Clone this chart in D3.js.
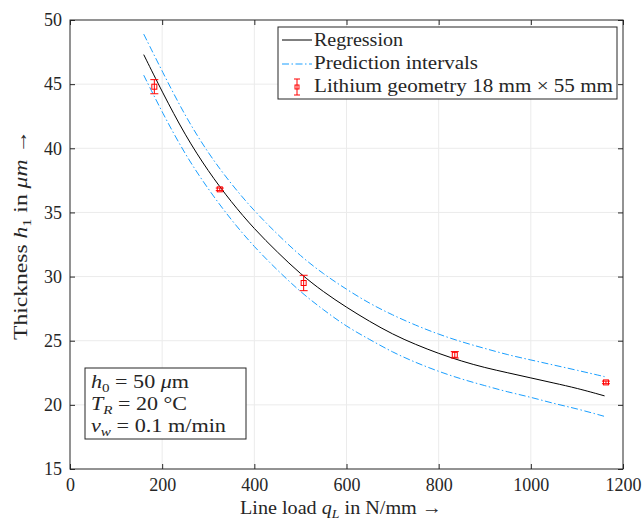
<!DOCTYPE html>
<meta charset="utf-8">
<style>
body { margin: 0; background: #fff; }
text { font-family: "Liberation Serif", "DejaVu Serif", serif; fill: #262626; }
</style>
<script src="https://d3js.org/d3.v7.min.js"></script>
<div id="chart"></div>
<script>
// regression curve and prediction intervals
var fitLoad  = [160, 200, 250, 300, 350, 400, 450, 500, 550, 600, 650, 700, 750, 800, 850, 900, 950, 1000, 1050, 1100, 1160];
var fitMid   = [47.3, 44.4, 41.0, 38.2, 35.8, 33.7, 31.9, 30.2, 28.8, 27.6, 26.5, 25.5, 24.7, 24.0, 23.4, 22.9, 22.5, 22.1, 21.7, 21.3, 20.7];
var fitUpper = [48.9, 46.0, 42.5, 39.6, 37.2, 35.1, 33.3, 31.6, 30.2, 29.0, 27.9, 27.0, 26.2, 25.5, 24.9, 24.4, 23.9, 23.5, 23.1, 22.7, 22.2];
var fitLower = [45.7, 42.8, 39.5, 36.8, 34.4, 32.3, 30.5, 28.8, 27.4, 26.1, 25.1, 24.1, 23.3, 22.6, 22.0, 21.5, 21.0, 20.6, 20.1, 19.7, 19.1];

// measurements
var measLoad = [183, 325, 507, 835, 1163];
var measThick = [44.8, 36.8, 29.5, 23.9, 21.75];
var measErr = [0.55, 0.1, 0.6, 0.25, 0.1];

var xTicks = [0, 200, 400, 600, 800, 1000, 1200];
var yTicks = [15, 20, 25, 30, 35, 40, 45, 50];

var W = 644, H = 523;
var margin = {top: 20, right: 21, bottom: 54, left: 70},
    width = W - margin.left - margin.right,
    height = H - margin.top - margin.bottom;

var svg = d3.select("#chart").append("svg")
    .attr("width", W).attr("height", H);
var g = svg.append("g")
    .attr("transform", "translate(" + margin.left + "," + margin.top + ")");

var x = d3.scaleLinear().domain([0, 1200]).range([0, width]);
var y = d3.scaleLinear().domain([15, 50]).range([height, 0]);

// grid
g.append("g").selectAll("line").data(xTicks.slice(1, -1)).enter().append("line")
  .attr("x1", d => x(d)).attr("x2", d => x(d)).attr("y1", 0).attr("y2", height)
  .attr("stroke", "#ebebeb").attr("stroke-width", 1);
g.append("g").selectAll("line").data(yTicks.slice(1, -1)).enter().append("line")
  .attr("y1", d => y(d)).attr("y2", d => y(d)).attr("x1", 0).attr("x2", width)
  .attr("stroke", "#ebebeb").attr("stroke-width", 1);

// axes with inward ticks on all sides
var axisColor = "#262626";
function styleAxis(sel) {
  sel.select(".domain").remove();
  sel.selectAll(".tick line").attr("stroke", axisColor);
  sel.selectAll(".tick text").style("font-size", "18px").style("font-family", "Liberation Serif, serif").attr("fill", axisColor);
}
g.append("g").attr("transform", "translate(0," + height + ")")
  .call(d3.axisBottom(x).tickValues(xTicks).tickSizeInner(-5).tickPadding(9).tickFormat(d3.format("d")))
  .call(styleAxis);
g.append("g")
  .call(d3.axisLeft(y).tickValues(yTicks).tickSizeInner(-5).tickPadding(8))
  .call(styleAxis);
g.append("g")
  .call(d3.axisTop(x).tickValues(xTicks).tickSizeInner(-5).tickFormat(""))
  .call(styleAxis);
g.append("g").attr("transform", "translate(" + width + ",0)")
  .call(d3.axisRight(y).tickValues(yTicks).tickSizeInner(-5).tickFormat(""))
  .call(styleAxis);
g.append("rect").attr("width", width).attr("height", height)
  .attr("fill", "none").attr("stroke", axisColor).attr("stroke-width", 1);

// curves
var line = d3.line().x(d => x(d[0])).y(d => y(d[1])).curve(d3.curveBasis);
var blue = "#1a9fff";
var dashDot = "7,2.5,1.5,2.5";
g.append("path").datum(d3.zip(fitLoad, fitUpper)).attr("d", line)
  .attr("fill", "none").attr("stroke", blue).attr("stroke-width", 1).attr("stroke-dasharray", dashDot);
g.append("path").datum(d3.zip(fitLoad, fitLower)).attr("d", line)
  .attr("fill", "none").attr("stroke", blue).attr("stroke-width", 1).attr("stroke-dasharray", dashDot);
g.append("path").datum(d3.zip(fitLoad, fitMid)).attr("d", line)
  .attr("fill", "none").attr("stroke", "#000").attr("stroke-width", 1);

// error bars
var red = "#ff0000";
var meas = d3.zip(measLoad, measThick, measErr);
var eb = g.append("g").selectAll("g").data(meas).enter().append("g")
  .attr("stroke", red).attr("stroke-width", 1).attr("fill", "none");
eb.append("line").attr("x1", d => x(d[0])).attr("x2", d => x(d[0]))
  .attr("y1", d => y(d[1] - d[2])).attr("y2", d => y(d[1] + d[2]));
eb.append("line").attr("x1", d => x(d[0]) - 4).attr("x2", d => x(d[0]) + 4)
  .attr("y1", d => y(d[1] - d[2])).attr("y2", d => y(d[1] - d[2]));
eb.append("line").attr("x1", d => x(d[0]) - 4).attr("x2", d => x(d[0]) + 4)
  .attr("y1", d => y(d[1] + d[2])).attr("y2", d => y(d[1] + d[2]));
eb.append("rect").attr("x", d => x(d[0]) - 2.5).attr("y", d => y(d[1]) - 2.5)
  .attr("width", 5).attr("height", 5);

// legend
var lg = svg.append("g").attr("transform", "translate(278,27)");
lg.append("rect").attr("width", 339).attr("height", 72)
  .attr("fill", "#fff").attr("stroke", axisColor).attr("stroke-width", 1);
lg.append("line").attr("x1", 4).attr("x2", 34).attr("y1", 13).attr("y2", 13)
  .attr("stroke", "#000");
lg.append("line").attr("x1", 4).attr("x2", 34).attr("y1", 37).attr("y2", 37)
  .attr("stroke", blue).attr("stroke-dasharray", dashDot);
var lgE = lg.append("g").attr("stroke", red).attr("fill", "none");
lgE.append("line").attr("x1", 19).attr("x2", 19).attr("y1", 52).attr("y2", 68);
lgE.append("line").attr("x1", 16).attr("x2", 22).attr("y1", 52).attr("y2", 52);
lgE.append("line").attr("x1", 16).attr("x2", 22).attr("y1", 68).attr("y2", 68);
lgE.append("rect").attr("x", 17).attr("y", 58).attr("width", 4).attr("height", 4);
var legendText = ["Regression", "Prediction intervals", "Lithium geometry 18 mm \u00d7 55 mm"];
var legendLen = [89, 164, 299];
lg.selectAll("text.l").data(legendText).enter().append("text")
  .attr("x", 36).attr("y", (d, i) => 19 + i * 23)
  .attr("textLength", (d, i) => legendLen[i]).attr("lengthAdjust", "spacingAndGlyphs")
  .style("font-size", "19px").text(d => d);

// annotation box
var ab = svg.append("g").attr("transform", "translate(85,368)");
ab.append("rect").attr("width", 161).attr("height", 71)
  .attr("fill", "#fff").attr("stroke", axisColor).attr("stroke-width", 1);
var t1 = ab.append("text").attr("x", 6).attr("y", 20).style("font-size", "19px")
  .attr("textLength", 98).attr("lengthAdjust", "spacingAndGlyphs");
t1.append("tspan").style("font-style", "italic").text("h");
t1.append("tspan").attr("dy", 4).style("font-size", "13px").text("0");
t1.append("tspan").attr("dy", -4).text(" = 50 ");
t1.append("tspan").style("font-style", "italic").text("\u03bc");
t1.append("tspan").text("m");
var t2 = ab.append("text").attr("x", 6).attr("y", 42).style("font-size", "19px")
  .attr("textLength", 96).attr("lengthAdjust", "spacingAndGlyphs");
t2.append("tspan").style("font-style", "italic").text("T");
t2.append("tspan").attr("dy", 4).style("font-size", "13px").style("font-style", "italic").text("R");
t2.append("tspan").attr("dy", -4).text(" = 20 \u00b0C");
var t3 = ab.append("text").attr("x", 6).attr("y", 64).style("font-size", "19px")
  .attr("textLength", 135).attr("lengthAdjust", "spacingAndGlyphs");
t3.append("tspan").style("font-style", "italic").text("v");
t3.append("tspan").attr("dy", 4).style("font-size", "13px").style("font-style", "italic").text("w");
t3.append("tspan").attr("dy", -4).text(" = 0.1 m/min");

// axis labels
var xl = svg.append("text").attr("x", 341).attr("y", 514)
  .attr("text-anchor", "middle").style("font-size", "19px")
  .attr("textLength", 202).attr("lengthAdjust", "spacingAndGlyphs");
xl.append("tspan").text("Line load ");
xl.append("tspan").style("font-style", "italic").text("q");
xl.append("tspan").attr("dy", 4).style("font-size", "13px").style("font-style", "italic").text("L");
xl.append("tspan").attr("dy", -4).text(" in N/mm \u2192");

var yl = svg.append("text")
  .attr("transform", "translate(27,235) rotate(-90)")
  .attr("text-anchor", "middle").style("font-size", "19px")
  .attr("textLength", 210).attr("lengthAdjust", "spacingAndGlyphs");
yl.append("tspan").text("Thickness ");
yl.append("tspan").style("font-style", "italic").text("h");
yl.append("tspan").attr("dy", 4).style("font-size", "13px").text("1");
yl.append("tspan").attr("dy", -4).text(" in ");
yl.append("tspan").style("font-style", "italic").text("\u03bcm");
yl.append("tspan").text(" \u2192");
</script>
